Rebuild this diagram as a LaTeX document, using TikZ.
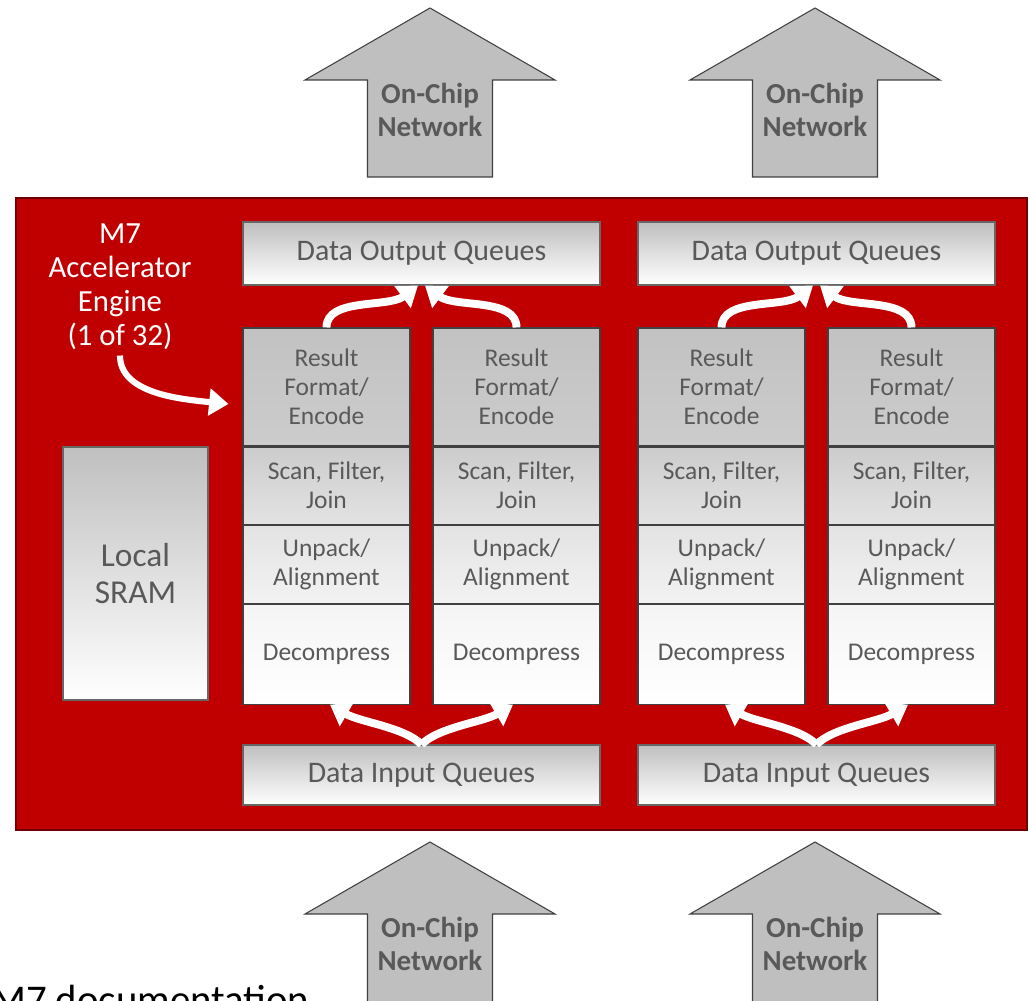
\documentclass[tikz,border=0pt]{standalone}
\usepackage{fontspec}
\setmainfont{Carlito}
\usetikzlibrary{positioning,arrows.meta}
\definecolor{engred}{HTML}{C00000}
\definecolor{engdark}{HTML}{700000}
\definecolor{netgray}{HTML}{BFBFBF}
\definecolor{textgray}{HTML}{595959}
\tikzset{every picture/.style={>=Triangle},
  engine/.style={draw=engdark, line width=1.2pt, fill=engred, minimum width=20.22cm, minimum height=12.64cm},
  netarrow/.style={draw=black!75, line width=0.6pt, fill=netgray},
  nettext/.style={font=\bfseries\fontsize{16.5}{18.7}\selectfont, text=textgray, align=center},
  cell/.style={draw=black!75, line width=0.6pt, minimum width=3.34cm, inner sep=0pt, align=center,
    text=textgray, font=\fontsize{14.5}{16.4}\selectfont},
  queue/.style={draw=black!60, line width=0.6pt, minimum width=7.14cm, top color=black!25, bottom color=white,
    text=textgray, font=\fontsize{17}{20}\selectfont},
  sram/.style={draw=black!60, line width=0.6pt, minimum width=2.9cm, minimum height=5.06cm, top color=black!25,
    bottom color=white, align=center, text=textgray, font=\fontsize{19}{21.5}\selectfont},
  whitearrow/.style={draw=white, line width=4.5pt, -{Triangle[length=11pt,width=15pt]}}}

\begin{document}
\begin{tikzpicture}
  \useasboundingbox (0,0) rectangle (20.58,20);
  % on-chip network arrows
  \foreach \x/\y/\l/\n in {8.6/19.84/1.94/t1, 16.3/19.84/1.94/t2, 8.6/3.16/2.4/b1, 16.3/3.16/2.4/b2} {
    \draw[netarrow] (\x,\y) -- ++(2.5,-1.44) -- ++(-1.25,0) -- ++(0,-\l) -- ++(-2.5,0) -- ++(0,\l)
      -- ++(-1.25,0) -- cycle;
    \node[nettext] (net\n) at (\x,\y-2.04) {On-Chip\\Network};
  }
  \node[engine] (eng) at (10.43,9.72) {};
  \node[align=center, text=white, font=\fontsize{17.5}{19.3}\selectfont] (m7) at (2.4,14.27)
    {M7\\Accelerator\\Engine\\(1 of 32)};
  \node[sram] (sram) at (2.71,8.53) {Local\\SRAM};
  % pipelines
  \foreach \i/\x in {1/6.53, 2/10.33, 3/14.43, 4/18.23} {
    \node[cell, minimum height=2.36cm, top color=black!24, bottom color=black!20] (res\i) at (\x,12.26)
      {Result\\Format/\\Encode};
    \node[cell, minimum height=1.54cm, top color=black!20, bottom color=black!11, below=0pt of res\i] (scan\i)
      {Scan, Filter,\\Join};
    \node[cell, minimum height=1.56cm, top color=black!11, bottom color=black!5, below=0pt of scan\i] (unp\i)
      {Unpack/\\Alignment};
    \node[cell, minimum height=2.0cm, top color=black!4, bottom color=white, below=0pt of unp\i] (dec\i)
      {Decompress};
  }
  \node[queue, minimum height=1.26cm] (outq1) at (8.43,14.93) {Data Output Queues};
  \node[queue, minimum height=1.26cm] (outq2) at (16.33,14.93) {Data Output Queues};
  \node[queue, minimum height=1.2cm] (inq1) at (8.43,4.5) {Data Input Queues};
  \node[queue, minimum height=1.2cm] (inq2) at (16.33,4.5) {Data Input Queues};
  % data flow
  \foreach \q/\a/\b in {1/1/2, 2/3/4} {
    \draw[whitearrow] (res\a.north) .. controls +(0,0.6) and +(-0.6,-0.45) .. ([xshift=-2pt]outq\q.south);
    \draw[whitearrow] (res\b.north) .. controls +(0,0.6) and +(0.6,-0.45) .. ([xshift=2pt]outq\q.south);
    \draw[whitearrow] (inq\q.north) .. controls +(-0.35,0.35) and +(0.6,-0.35) .. ([xshift=2pt]dec\a.south);
    \draw[whitearrow] (inq\q.north) .. controls +(0.35,0.35) and +(-0.6,-0.35) .. ([xshift=-2pt]dec\b.south);
  }
  \draw[whitearrow, line width=3.5pt] (m7.south) .. controls +(0,-0.75) and +(-1.0,0.1)
    .. ([xshift=-0.28cm,yshift=-0.34cm]res1.west);
  \node[anchor=base west, font=\fontsize{23.2}{28}\selectfont] (doc) at (-0.3,-0.26) {M7 documentation};
\end{tikzpicture}
\end{document}
